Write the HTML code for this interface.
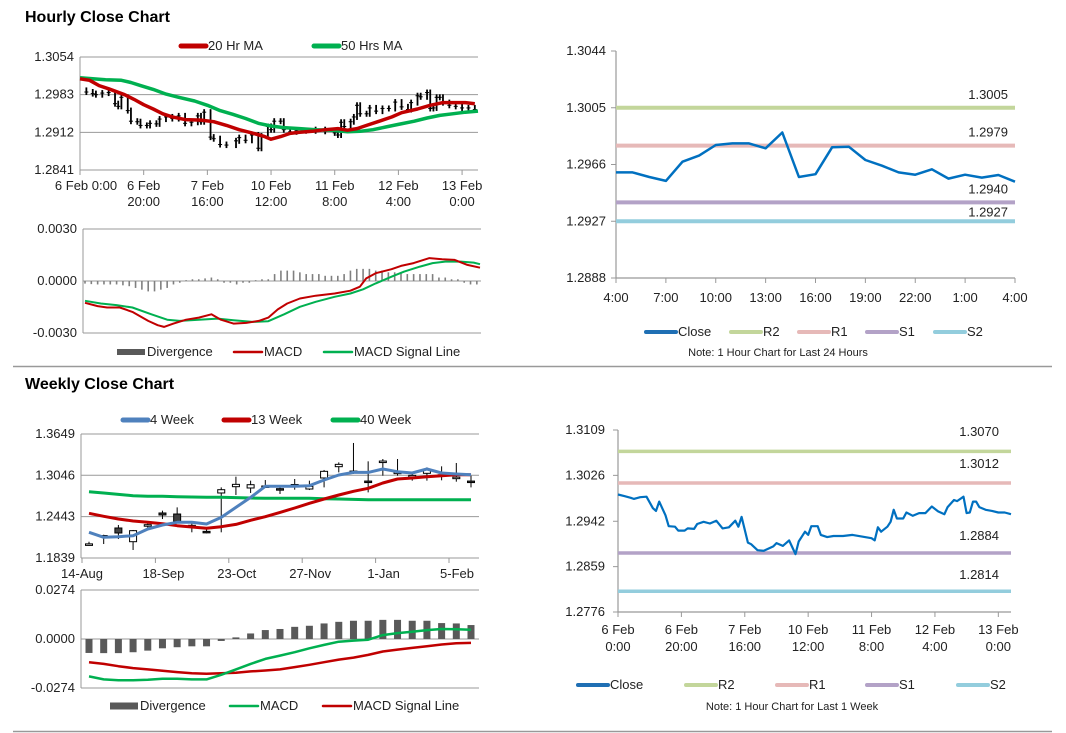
<!DOCTYPE html>
<html><head><meta charset="utf-8"><style>
html,body{margin:0;padding:0;background:#fff;}
svg{display:block;font-family:"Liberation Sans",Arial,sans-serif;}
</style></head><body>
<svg id="s" width="1066" height="733" viewBox="0 0 1066 733" xmlns="http://www.w3.org/2000/svg">
<rect width="1066" height="733" fill="#fff"/>
<text x="25" y="22" font-size="16" font-weight="bold">Hourly Close Chart</text>
<text x="25" y="389" font-size="16" font-weight="bold">Weekly Close Chart</text>
<line x1="13" y1="366.5" x2="1052" y2="366.5" stroke="#999" stroke-width="1.5"/>
<line x1="13" y1="731.5" x2="1052" y2="731.5" stroke="#999" stroke-width="1.5"/>
</svg>
<script>
// ---- data ----
const hourHours=[0,2,4,5,7,9,11,12,13,15,16,18,19,21,22,24,25,27,29,31,33,35,37,38,39,41,42,44,46,49,50,52,54,56,57,59,60,61,63,64,66,68,71,74,77,80,81,82,83,85,86,87,88,90,91,93,95,97,99,101,103,104,106,107,109,110,111,112,113,114,116,118,120,122,124];
const hourClose=[1.2991,1.2988,1.2985,1.2983,1.2986,1.2987,1.2966,1.2961,1.2978,1.2953,1.2933,1.2932,1.2925,1.2925,1.2929,1.2928,1.2937,1.2941,1.2938,1.2943,1.2929,1.2931,1.2943,1.2932,1.2950,1.2903,1.2900,1.2889,1.2888,1.2896,1.2902,1.2897,1.2907,1.2882,1.2905,1.2923,1.2917,1.2933,1.2933,1.2917,1.2913,1.2915,1.2915,1.2917,1.2914,1.2911,1.2907,1.2931,1.2923,1.2932,1.2941,1.2963,1.2947,1.2947,1.2958,1.2952,1.2957,1.2957,1.2969,1.2960,1.2955,1.2968,1.2981,1.2979,1.2987,1.2957,1.2958,1.2978,1.2978,1.2968,1.2963,1.2961,1.2958,1.2958,1.2955];
const ma20Hours=[0,3,6,9,14,17,20,23,26,29,33,38,42,46,50,54,58,60,63,66,69,73,77,81,84,87,90,94,98,101,106,110,114,118,121,124];
const ma20=[1.3013,1.3010,1.3000,1.2994,1.2983,1.2974,1.2964,1.2956,1.2947,1.2941,1.2936,1.2935,1.2932,1.2925,1.2917,1.2911,1.2904,1.2899,1.2904,1.2910,1.2912,1.2914,1.2917,1.2919,1.2916,1.2919,1.2925,1.2933,1.2941,1.2949,1.2956,1.2963,1.2968,1.2968,1.2968,1.2966];
const ma50Hours=[0,4,8,13,16,19,23,27,31,36,40,44,48,52,56,60,64,69,74,79,84,88,92,96,100,105,109,113,117,121,125];
const ma50=[1.3015,1.3013,1.3011,1.3010,1.3006,1.3000,1.2993,1.2984,1.2978,1.2971,1.2963,1.2953,1.2946,1.2938,1.2929,1.2924,1.2921,1.2919,1.2917,1.2916,1.2913,1.2914,1.2917,1.2922,1.2927,1.2933,1.2939,1.2944,1.2947,1.2950,1.2952];
const macdHours=[0,4,7,11,15,20,23,25,28,32,36,40,43,47,51,55,58,61,64,68,73,79,84,87,89,92,97,100,104,109,113,117,121,125];
const macdH=[-0.00126,-0.00145,-0.00153,-0.00153,-0.00178,-0.00230,-0.00255,-0.00265,-0.00246,-0.00223,-0.00211,-0.00192,-0.00223,-0.00246,-0.00242,-0.00230,-0.00211,-0.00164,-0.00130,-0.00101,-0.00085,-0.00072,-0.00056,-0.00033,0.00015,0.00045,0.00068,0.00087,0.00103,0.00132,0.00126,0.00122,0.00093,0.00077];
const sigHours=[0,5,10,15,21,26,30,36,42,47,53,58,63,68,73,79,84,88,92,97,101,106,110,114,119,123,125];
const sigH=[-0.00114,-0.00130,-0.00139,-0.00153,-0.00192,-0.00223,-0.00230,-0.00223,-0.00217,-0.00226,-0.00236,-0.00232,-0.00192,-0.00149,-0.00120,-0.00091,-0.00072,-0.00048,-0.00014,0.00025,0.00054,0.00083,0.00103,0.00112,0.00112,0.00106,0.00097];
const divH=[-0.00015,-0.00018,-0.0002,-0.0002,-0.0002,-0.0002,-0.00025,-0.0003,-0.0004,-0.0005,-0.0006,-0.0006,-0.0005,-0.0004,-0.0002,-0.0001,0.00005,0.0001,0.0001,0.00015,0.0002,0.0001,-0.0001,-0.0001,-0.0002,-0.0001,-0.0001,0.00005,0.0001,0.0001,0.0004,0.0006,0.0006,0.0006,0.0005,0.0004,0.0004,0.0004,0.0003,0.0003,0.0003,0.0004,0.0006,0.0007,0.0007,0.0007,0.0006,0.0006,0.0005,0.0005,0.0005,0.0004,0.0004,0.0004,0.0004,0.0004,0.0002,0.0002,0.0001,0.0001,-0.0001,-0.0002,-0.0002];
const hourLabels=[["6 Feb 0:00",""],["6 Feb","20:00"],["7 Feb","16:00"],["10 Feb","12:00"],["11 Feb","8:00"],["12 Feb","4:00"],["13 Feb","0:00"]];
const dayClose=[1.29606,1.29606,1.29574,1.29547,1.29679,1.29721,1.29794,1.29805,1.29805,1.29771,1.29880,1.29574,1.29593,1.29778,1.29782,1.29691,1.29652,1.29606,1.29590,1.29627,1.29563,1.29590,1.29570,1.29588,1.29542];
const dayLabels=["4:00","7:00","10:00","13:00","16:00","19:00","22:00","1:00","4:00"];
const levelsDay=[1.3005,1.2979,1.2940,1.2927];
const levelsWeek=[1.3070,1.3012,1.2884,1.2814];
const wOpen=[1.2040,1.2163,1.2277,1.2077,1.2315,1.2496,1.2481,1.2306,1.2228,1.2788,1.2880,1.2861,1.2885,1.2851,1.2905,1.2846,1.3007,1.3172,1.3100,1.2962,1.3246,1.3085,1.3037,1.3075,1.3046,1.3013,1.2962];
const wClose=[1.2045,1.2167,1.2204,1.2238,1.2325,1.2467,1.2369,1.2316,1.2218,1.2836,1.2914,1.2909,1.2890,1.2841,1.2912,1.2885,1.3104,1.3206,1.3108,1.2955,1.3254,1.3092,1.3045,1.3138,1.3054,1.3019,1.2954];
const wHigh=[1.2077,1.2179,1.2321,1.2248,1.2360,1.2530,1.2578,1.2360,1.2272,1.2870,1.3026,1.2968,1.2977,1.2870,1.2992,1.2968,1.3124,1.3235,1.3518,1.3250,1.3284,1.3284,1.3099,1.3162,1.3177,1.3226,1.3041];
const wLow=[1.2019,1.2043,1.2116,1.1956,1.2262,1.2408,1.2360,1.2214,1.2199,1.2214,1.2759,1.2788,1.2870,1.2773,1.2836,1.2831,1.2870,1.3089,1.3065,1.2797,1.3041,1.3041,1.2968,1.2968,1.2973,1.2953,1.2870];
const w4=[1.2214,1.2141,1.2150,1.2165,1.2262,1.2321,1.2360,1.2360,1.2335,1.2432,1.2578,1.2724,1.2885,1.2885,1.2885,1.2895,1.2977,1.3050,1.3089,1.3089,1.3138,1.3099,1.3080,1.3138,1.3080,1.3065,1.3055];
const w13=[1.2491,1.2447,1.2408,1.2379,1.2360,1.2340,1.2311,1.2291,1.2272,1.2296,1.2330,1.2389,1.2442,1.2505,1.2569,1.2637,1.2700,1.2758,1.2812,1.2856,1.2934,1.2992,1.3007,1.3026,1.3041,1.3055,1.3055];
const w40=[1.2807,1.2788,1.2768,1.2749,1.2739,1.2739,1.2734,1.2729,1.2725,1.2725,1.2720,1.2715,1.2710,1.2710,1.2710,1.2710,1.2705,1.2700,1.2695,1.2690,1.2690,1.2690,1.2690,1.2690,1.2690,1.2690,1.2690];
const wDiv=[-0.0078,-0.0079,-0.0079,-0.0074,-0.0065,-0.0052,-0.0046,-0.0041,-0.0041,-0.0011,0.0009,0.0031,0.0050,0.0056,0.0068,0.0074,0.0087,0.0096,0.0102,0.0102,0.0107,0.0107,0.0102,0.0102,0.0089,0.0087,0.0078];
const wMacd=[-0.0209,-0.0226,-0.0231,-0.0231,-0.0228,-0.0222,-0.0222,-0.0226,-0.0226,-0.0200,-0.0170,-0.0139,-0.0111,-0.0093,-0.0074,-0.0052,-0.0033,-0.0015,-0.0009,-0.0004,0.0022,0.0033,0.0041,0.0050,0.0056,0.0054,0.0052];
const wSig=[-0.0130,-0.0139,-0.0152,-0.0163,-0.0170,-0.0178,-0.0185,-0.0191,-0.0194,-0.0192,-0.0189,-0.0181,-0.0176,-0.0170,-0.0157,-0.0144,-0.0130,-0.0115,-0.0104,-0.0089,-0.0070,-0.0059,-0.0050,-0.0041,-0.0031,-0.0024,-0.0022];
const weekLabels=["14-Aug","18-Sep","23-Oct","27-Nov","1-Jan","5-Feb"];

// ---- helpers ----
const S=document.getElementById('s');const NS='http://www.w3.org/2000/svg';
const FS=13;
function mk(t,a,txt){const e=document.createElementNS(NS,t);for(const k in a)e.setAttribute(k,a[k]);if(txt!==undefined)e.textContent=txt;S.appendChild(e);return e;}
function lin(d0,d1,r0,r1){return v=>r0+(v-d0)*(r1-r0)/(d1-d0);}
function poly(xs,ys,fx,fy,col,w,name){const p=xs.map((x,i)=>fx(x).toFixed(1)+','+fy(ys[i]).toFixed(1)).join(' ');const e=mk('polyline',{points:p,fill:'none',stroke:col,'stroke-width':w,'stroke-linejoin':'round'});return e;}
function txt(x,y,s,anchor,size,name,col){const e=mk('text',{x:x,y:y,'font-size':size||FS,'text-anchor':anchor||'start',fill:col||'#222'},s);return e;}
function hl(x1,x2,y,col,w,name){const e=mk('line',{x1:x1,x2:x2,y1:y,y2:y,stroke:col,'stroke-width':w});return e;}
function vl(x,y1,y2,col,w,name){const e=mk('line',{x1:x,x2:x,y1:y1,y2:y2,stroke:col,'stroke-width':w});return e;}
function legend(items,y,name){items.forEach(it=>{const l=hl(it[0],it[0]+it[3],y-4,it[2],it[4]||5,name+'-swatch');l.setAttribute('stroke-linecap',it[5]?'butt':'round');txt(it[0]+it[3]+2,y,it[1],'start',FS,name+'-label');});}
const idx=(a)=>a.map((_,i)=>i);

// ---- Panel 1: hourly candles ----
{const x=lin(0,125,80,478),y=lin(1.2841,1.3054,170,57);const ticks=[1.2841,1.2912,1.2983,1.3054];
ticks.forEach(t=>{hl(80,478,y(t),'#999',1,'gridline');txt(74,y(t)+4,t.toFixed(4),'end',FS,'y-tick-label');});
vl(80,57,170,'#999',1,'y-axis');
hourLabels.forEach((l,i)=>{const xx=x(i*20);vl(xx,170,175,'#999',1,'x-tick');txt(i==0?xx+6:xx,190,l[0],'middle',FS,'x-tick-label');if(l[1])txt(xx,206,l[1],'middle',FS,'x-tick-label');});
for(let i=1;i<hourClose.length;i++){const a=hourClose[i-1],b=hourClose[i];const xx=x(hourHours[i]);vl(xx,y(Math.max(a,b))-3,y(Math.min(a,b))+3,'#000',1.8,'candle');hl(xx-2,xx+2,y(b),'#000',1,'candle-close');}
poly(ma50Hours,ma50,x,y,'#00b050',3.5,'ma50-line');poly(ma20Hours,ma20,x,y,'#c00000',3.5,'ma20-line');
legend([[181,'20 Hr MA','#c00000',25],[314,'50 Hrs MA','#00b050',25]],50,'legend-hourly');}

// ---- Panel 2: hourly MACD ----
{const x=lin(0,125,85,480),y=lin(-0.003,0.003,333,229);
[0.003,0,-0.003].forEach(t=>{hl(83,481,y(t),'#999',1,'gridline');txt(77,y(t)+4,t.toFixed(4),'end',FS,'y-tick-label');});
vl(83,229,333,'#999',1,'y-axis');
divH.forEach((v,i)=>{const xx=x(i*2);vl(xx,y(0),y(v),'#808080',1.6,'divergence-bar');});
poly(sigHours,sigH,x,y,'#00b050',2,'signal-line');poly(macdHours,macdH,x,y,'#c00000',2,'macd-line');
legend([[117,'Divergence','#595959',28,6,1],[234,'MACD','#c00000',28,2.5],[324,'MACD Signal Line','#00b050',28,2.5]],356,'legend-hourly-macd');}

// ---- Panel 3: daily pivot ----
{const x=lin(0,24,616,1015),y=lin(1.2888,1.3044,278,51);
[1.3044,1.3005,1.2966,1.2927,1.2888].forEach(t=>{txt(606,y(t)+4,t.toFixed(4),'end',FS,'y-tick-label');hl(611,616,y(t),'#999',1,'y-tick');});
vl(616,51,278,'#999',1.2,'y-axis');hl(616,1015,278,'#999',1.2,'x-axis');
dayLabels.forEach((l,i)=>{const xx=x(i*3);vl(xx,278,283,'#999',1,'x-tick');txt(xx,302,l,'middle',FS,'x-tick-label');});
const cols=['#c3d69b','#e6b9b8','#b3a2c7','#93cddd'],nm=['r2','r1','s1','s2'];
levelsDay.forEach((v,i)=>{hl(616,1015,y(v),cols[i],4,nm[i]+'-line');txt(1008,y(v)-(i==3?5:9),v.toFixed(4),'end',FS,nm[i]+'-label');});
poly(idx(dayClose),dayClose,x,y,'#0070c0',2.5,'close-line');
legend([[646,'Close','#1f6fb4',30,4],[731,'R2','#c3d69b',30,4],[799,'R1','#e6b9b8',30,4],[867,'S1','#b3a2c7',30,4],[935,'S2','#93cddd',30,4]],336,'legend-daily');
txt(778,356,'Note: 1 Hour Chart for Last 24 Hours','middle',11,'chart-note');}

// ---- Panel 4: weekly candles ----
{const x=lin(0,26,89,471),y=lin(1.1839,1.3649,558,434);
[1.3649,1.3046,1.2443,1.1839].forEach(t=>{hl(81,479,y(t),'#999',1,'gridline');txt(75,y(t)+4,t.toFixed(4),'end',FS,'y-tick-label');});
vl(81,434,558,'#999',1,'y-axis');
weekLabels.forEach((l,i)=>{const xx=82+i*73.4;vl(xx,558,563,'#999',1,'x-tick');txt(xx+(i==0?0:8),578,l,'middle',FS,'x-tick-label');});
wOpen.forEach((o,i)=>{const c=wClose[i],xx=x(i);vl(xx,y(wHigh[i]),y(wLow[i]),'#000',1,'candle-wick');const top=y(Math.max(o,c)),h=Math.max(1.5,Math.abs(y(o)-y(c)));const r=mk('rect',{x:xx-3.5,y:top,width:7,height:h,fill:c>=o?'#fff':'#404040',stroke:'#000','stroke-width':1});});
poly(idx(w40),w40,x,y,'#00b050',3,'ma40-line');poly(idx(w13),w13,x,y,'#c00000',3,'ma13-line');poly(idx(w4),w4,x,y,'#4f81bd',3,'ma4-line');
legend([[123,'4 Week','#4f81bd',25],[224,'13 Week','#c00000',25],[333,'40 Week','#00b050',25]],424,'legend-weekly');}

// ---- Panel 5: weekly MACD ----
{const x=lin(0,26,89,471),y=lin(-0.0274,0.0274,688,590);
[0.0274,0,-0.0274].forEach(t=>{hl(81,479,y(t),'#999',1,'gridline');txt(75,y(t)+4,t.toFixed(4),'end',FS,'y-tick-label');});
vl(81,590,688,'#999',1,'y-axis');
wDiv.forEach((v,i)=>{const xx=x(i),a=y(0),b=y(v);const r=mk('rect',{x:xx-3.5,y:Math.min(a,b),width:7,height:Math.max(0.8,Math.abs(b-a)),fill:'#595959'});});
poly(idx(wSig),wSig,x,y,'#c00000',2.5,'signal-line');poly(idx(wMacd),wMacd,x,y,'#00b050',2.5,'macd-line');
legend([[110,'Divergence','#595959',28,7,1],[230,'MACD','#00b050',28,2.5],[323,'MACD Signal Line','#c00000',28,2.5]],710,'legend-weekly-macd');}

// ---- Panel 6: weekly pivot ----
{const x=lin(0,124,618,1011),y=lin(1.2776,1.3109,612,430);
[1.3109,1.3026,1.2942,1.2859,1.2776].forEach(t=>{txt(605,y(t)+4,t.toFixed(4),'end',FS,'y-tick-label');hl(613,618,y(t),'#999',1,'y-tick');});
vl(618,430,612,'#999',1.2,'y-axis');hl(618,1011,612,'#999',1.2,'x-axis');
hourLabels.forEach((l,i)=>{const xx=x(i*20);vl(xx,612,617,'#999',1,'x-tick');const p=l[0].split(' ');const a=l[1]?l[0]:p[0]+' '+p[1],b=l[1]||p[2];txt(xx,634,a,'middle',FS,'x-tick-label');txt(xx,651,b,'middle',FS,'x-tick-label');});
const cols=['#c3d69b','#e6b9b8','#b3a2c7','#93cddd'],nm=['r2','r1','s1','s2'];
levelsWeek.forEach((v,i)=>{hl(618,1011,y(v),cols[i],3.5,nm[i]+'-line');txt(999,[436,468,540,579][i],v.toFixed(4),'end',FS,nm[i]+'-label');});
poly(hourHours,hourClose,x,y,'#0070c0',2.2,'close-line');
legend([[578,'Close','#1f6fb4',30,4],[686,'R2','#c3d69b',30,4],[777,'R1','#e6b9b8',30,4],[867,'S1','#b3a2c7',30,4],[958,'S2','#93cddd',30,4]],689,'legend-weekly-pivot');
txt(792,710,'Note: 1 Hour Chart for Last 1 Week','middle',11,'chart-note');}
</script>
</body></html>
